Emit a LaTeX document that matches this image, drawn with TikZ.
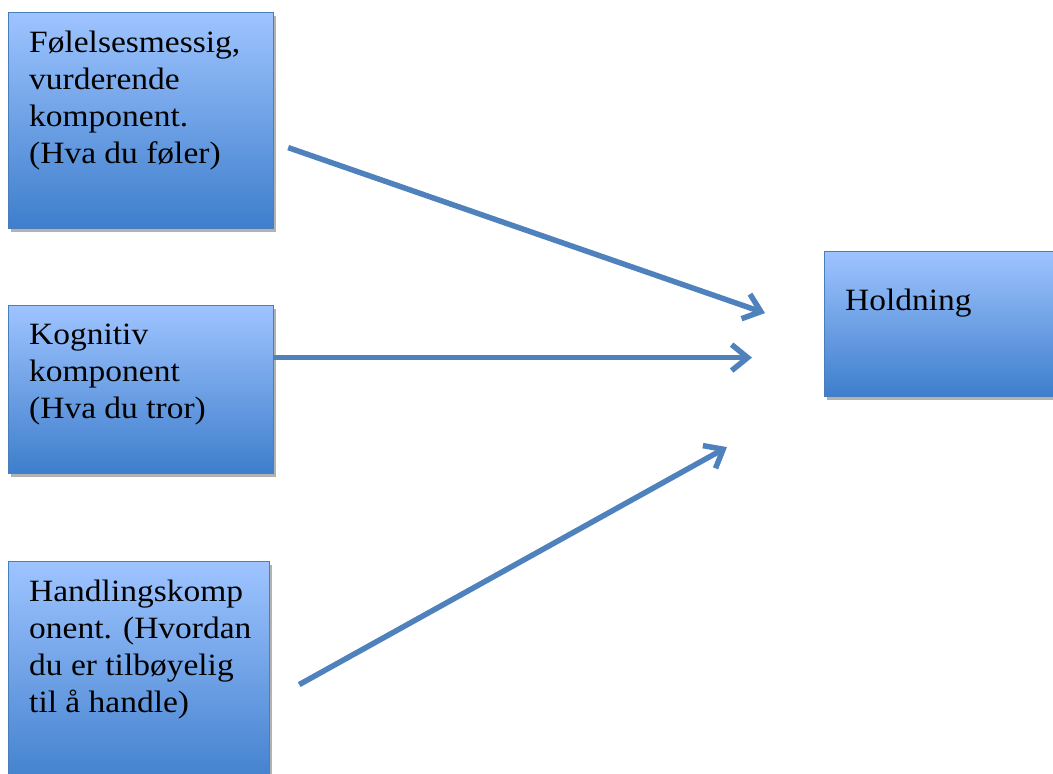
\documentclass[tikz,border=0pt]{standalone}
\usepackage{fontspec}
\setmainfont[FakeStretch=1.08]{Liberation Serif}
\usepackage{tikz}
\usetikzlibrary{calc, positioning, arrows.meta, shadows}
\definecolor{boxtop}{RGB}{158,196,255}
\definecolor{boxbot}{RGB}{62,126,204}
\definecolor{boxline}{RGB}{74,126,187}
\definecolor{arrowblue}{RGB}{79,129,189}
\tikzset{
  box/.style={draw=boxline, line width=1.2pt, top color=boxtop, bottom color=boxbot,
    drop shadow={opacity=0.5, fill=black!60, shadow xshift=2pt, shadow yshift=-3pt},
    anchor=north west, inner sep=0pt},
  txt/.style={anchor=north west, align=left, inner sep=0pt,
    font=\fontsize{31}{37}\selectfont},
  pil/.style={draw=arrowblue, line width=5.5pt,
    -{Straight Barb[length=16pt, width=26pt, line width=5.5pt]}}
}

\begin{document}
\begin{tikzpicture}[x=1pt, y=-1pt]
            \useasboundingbox (0,0) rectangle (1053,774);
            \clip (0,0) rectangle (1053,774);
            \node[box, minimum width=265pt, minimum height=216pt] (feel) at (8,12) {};
            \node[box, minimum width=265pt, minimum height=168pt] (think) at (8,305) {};
            \node[box, minimum width=261pt, minimum height=230pt] (act) at (8,561) {};
            \node[box, minimum width=260pt, minimum height=145pt] (hold) at (824,251) {};
            \node[txt] (feeltxt) at ([shift={(21,19)}]feel.north west)
                {Følelsesmessig,\\vurderende\\komponent.\\(Hva du føler)};
            \node[txt] (thinktxt) at ([shift={(21,19)}]think.north west)
                {Kognitiv\\komponent\\(Hva du tror)};
            \node[txt] (acttxt) at ([shift={(21,19)}]act.north west)
                {Handlingskomp\\onent. (Hvordan\\du er tilbøyelig\\til å handle)};
            \node[txt] (holdtxt) at ([shift={(21,38)}]hold.north west) {Holdning};
            % free arrow ends
            \coordinate (feelout) at ([shift={(14,27)}]feel.east);
            \coordinate (thinkout) at ([shift={(0,-32)}]think.east);
            \coordinate (actout) at ([shift={(29,8)}]act.east);
            \coordinate (in1) at ([shift={(-59,-11)}]hold.west);
            \coordinate (in2) at ([shift={(-72,33)}]hold.west);
            \coordinate (in3) at ([shift={(-97,123)}]hold.west);
            \draw[pil] (feelout) -- (in1);
            \draw[pil] (thinkout) -- (thinkout -| in2);
            \draw[pil] (actout) -- (in3);
        \end{tikzpicture}
\end{document}
